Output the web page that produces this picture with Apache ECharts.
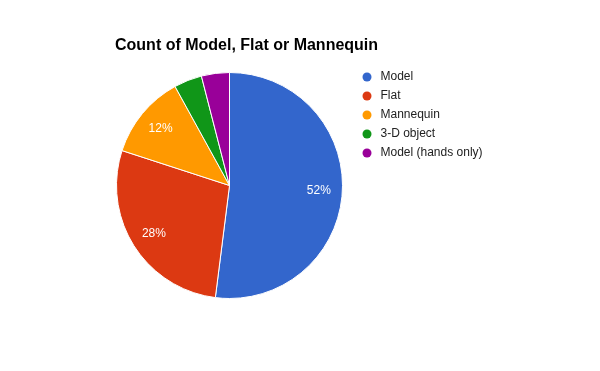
<!DOCTYPE html>
<html>
<head>
<meta charset="utf-8">
<script src="https://cdn.jsdelivr.net/npm/echarts@6/dist/echarts.min.js"></script>
<style>
html,body{margin:0;padding:0;background:#fff;}
#chart{width:600px;height:371px;}
</style>
</head>
<body>
<div id="chart"></div>
<script>
const titleText = 'Count of Model, Flat or Mannequin';
const categories = ['Model', 'Flat', 'Mannequin', '3-D object', 'Model (hands only)'];
const counts = [26, 14, 6, 2, 2];
const colors = ['#3366cc', '#dc3912', '#ff9900', '#109618', '#990099'];

const FONT = 'Arial, "Liberation Sans", sans-serif';
const total = counts.reduce((a, b) => a + b, 0);
const data = categories.map((name, i) => ({ name, value: counts[i], itemStyle: { color: colors[i] } }));

const chart = echarts.init(document.getElementById('chart'), null, { renderer: 'canvas' });
chart.setOption({
  animation: false,
  backgroundColor: '#ffffff',
  title: {
    text: titleText,
    left: 115,
    top: 37.5,
    padding: 0,
    textStyle: { fontFamily: FONT, fontSize: 16, fontWeight: 'bold', color: '#000' }
  },
  legend: {
    orient: 'vertical',
    left: 362.5,
    top: 71,
    padding: 0,
    icon: 'circle',
    itemWidth: 9,
    itemHeight: 9,
    itemGap: 7,
    selectedMode: false,
    itemStyle: { borderWidth: 0 },
    data: categories,
    textStyle: { fontFamily: FONT, fontSize: 12, color: '#222', padding: [0, 0, 0, 4] }
  },
  series: [
    {
      type: 'pie',
      center: [229.5, 185.5],
      radius: [0, 113],
      startAngle: 90,
      clockwise: true,
      avoidLabelOverlap: false,
      silent: true,
      itemStyle: { borderColor: '#ffffff', borderWidth: 1 },
      label: { show: false },
      labelLine: { show: false },
      emphasis: { disabled: true },
      data: data
    },
    {
      type: 'pie',
      center: [229.5, 185.5],
      radius: [60, 113],
      startAngle: 90,
      clockwise: true,
      avoidLabelOverlap: false,
      silent: true,
      legendHoverLink: false,
      itemStyle: { color: 'rgba(0,0,0,0)', borderWidth: 0 },
      label: {
        show: true,
        position: 'inside',
        fontFamily: FONT,
        fontSize: 12,
        color: '#ffffff',
        textBorderWidth: 0,
        textShadowBlur: 0,
        padding: [6, 0, 0, 0],
        formatter: p => {
          const pct = Math.round(p.value / total * 100);
          return pct >= 5 ? pct + '%' : '';
        }
      },
      labelLine: { show: false },
      emphasis: { disabled: true },
      data: categories.map((name, i) => ({ name: name + ' ', value: counts[i] }))
    }
  ]
});
</script>
</body>
</html>
